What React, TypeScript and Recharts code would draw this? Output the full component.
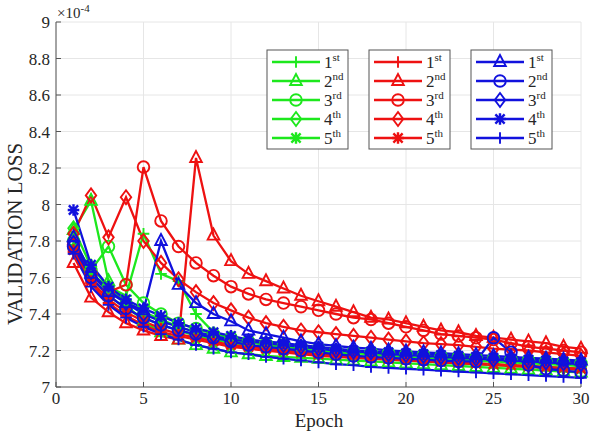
import React from "react";
import { LineChart, Line, XAxis, YAxis, CartesianGrid } from "recharts";

// validation loss, in units of 1e-4
const epochs = [1, 2, 3, 4, 5, 6, 7, 8, 9, 10, 11, 12, 13, 14, 15, 16, 17, 18, 19, 20, 21, 22, 23, 24, 25, 26, 27, 28, 29, 30];

const green1 = [7.78, 7.62, 7.55, 7.5, 7.84, 7.62, 7.58, 7.4, 7.3, 7.26, 7.23, 7.21, 7.2, 7.19, 7.18, 7.17, 7.16, 7.155, 7.15, 7.145, 7.14, 7.135, 7.13, 7.125, 7.12, 7.115, 7.11, 7.105, 7.1, 7.095];
const green2 = [7.86, 8.02, 7.58, 7.45, 7.36, 7.3, 7.26, 7.23, 7.21, 7.19, 7.18, 7.17, 7.165, 7.16, 7.155, 7.15, 7.145, 7.14, 7.135, 7.13, 7.125, 7.12, 7.115, 7.11, 7.105, 7.1, 7.095, 7.09, 7.085, 7.08];
const green3 = [7.8, 7.64, 7.77, 7.56, 7.46, 7.4, 7.35, 7.32, 7.29, 7.27, 7.25, 7.24, 7.23, 7.22, 7.21, 7.2, 7.195, 7.19, 7.185, 7.18, 7.175, 7.17, 7.165, 7.16, 7.155, 7.15, 7.145, 7.14, 7.135, 7.13];
const green4 = [7.87, 7.66, 7.55, 7.47, 7.41, 7.37, 7.33, 7.3, 7.28, 7.26, 7.245, 7.23, 7.22, 7.21, 7.2, 7.19, 7.185, 7.18, 7.17, 7.165, 7.16, 7.155, 7.15, 7.145, 7.14, 7.135, 7.13, 7.125, 7.12, 7.115];
const green5 = [7.76, 7.6, 7.5, 7.43, 7.38, 7.34, 7.31, 7.28, 7.26, 7.24, 7.23, 7.215, 7.205, 7.195, 7.185, 7.18, 7.17, 7.165, 7.16, 7.15, 7.145, 7.14, 7.135, 7.13, 7.125, 7.12, 7.115, 7.11, 7.105, 7.1];

const red1 = [7.74, 7.57, 7.46, 7.39, 7.34, 7.3, 7.28, 7.26, 7.24, 7.22, 7.21, 7.2, 7.19, 7.18, 7.17, 7.165, 7.16, 7.155, 7.15, 7.145, 7.14, 7.135, 7.13, 7.125, 7.12, 7.115, 7.11, 7.105, 7.1, 7.095];
const red2 = [7.68, 7.49, 7.41, 7.35, 7.31, 7.28, 7.26, 8.255, 7.83, 7.69, 7.62, 7.58, 7.54, 7.5, 7.47, 7.44, 7.41, 7.38, 7.37, 7.35, 7.33, 7.31, 7.3, 7.28, 7.27, 7.26, 7.25, 7.24, 7.22, 7.21];
const red3 = [7.78, 7.62, 7.52, 7.56, 8.205, 7.91, 7.77, 7.68, 7.61, 7.55, 7.51, 7.48, 7.46, 7.44, 7.42, 7.4, 7.38, 7.37, 7.35, 7.33, 7.31, 7.29, 7.28, 7.27, 7.26, 7.24, 7.22, 7.21, 7.2, 7.19];
const red4 = [7.84, 8.05, 7.82, 8.04, 7.8, 7.68, 7.59, 7.52, 7.46, 7.42, 7.38, 7.35, 7.33, 7.31, 7.3, 7.29, 7.28, 7.27, 7.26, 7.25, 7.24, 7.235, 7.23, 7.22, 7.21, 7.205, 7.2, 7.19, 7.18, 7.17];
const red5 = [7.75, 7.58, 7.48, 7.41, 7.36, 7.32, 7.29, 7.27, 7.25, 7.23, 7.22, 7.21, 7.2, 7.19, 7.18, 7.175, 7.17, 7.16, 7.155, 7.15, 7.145, 7.14, 7.135, 7.13, 7.125, 7.12, 7.115, 7.11, 7.105, 7.1];

const blue1 = [7.82, 7.62, 7.52, 7.46, 7.42, 7.8, 7.56, 7.46, 7.4, 7.36, 7.31, 7.29, 7.27, 7.25, 7.235, 7.225, 7.215, 7.21, 7.2, 7.195, 7.19, 7.185, 7.18, 7.175, 7.17, 7.165, 7.16, 7.155, 7.15, 7.145];
const blue2 = [7.77, 7.6, 7.5, 7.43, 7.38, 7.34, 7.31, 7.29, 7.27, 7.25, 7.23, 7.22, 7.21, 7.2, 7.19, 7.18, 7.17, 7.165, 7.16, 7.155, 7.15, 7.145, 7.14, 7.14, 7.27, 7.19, 7.12, 7.1, 7.09, 7.08];
const blue3 = [7.79, 7.63, 7.53, 7.46, 7.4, 7.36, 7.33, 7.3, 7.28, 7.26, 7.25, 7.24, 7.23, 7.22, 7.21, 7.2, 7.195, 7.19, 7.18, 7.175, 7.17, 7.165, 7.16, 7.155, 7.15, 7.145, 7.14, 7.135, 7.13, 7.125];
const blue4 = [7.97, 7.67, 7.55, 7.48, 7.43, 7.39, 7.35, 7.32, 7.3, 7.28, 7.26, 7.25, 7.24, 7.23, 7.22, 7.21, 7.2, 7.195, 7.19, 7.185, 7.18, 7.175, 7.17, 7.165, 7.16, 7.155, 7.15, 7.145, 7.14, 7.135];
const blue5 = [7.73, 7.55, 7.45, 7.38, 7.33, 7.29, 7.26, 7.23, 7.21, 7.19, 7.18, 7.165, 7.155, 7.145, 7.135, 7.125, 7.12, 7.11, 7.105, 7.1, 7.095, 7.09, 7.085, 7.08, 7.075, 7.07, 7.065, 7.06, 7.055, 7.05];

const xTicks = [0, 5, 10, 15, 20, 25, 30];
const yTicks = [7, 7.2, 7.4, 7.6, 7.8, 8, 8.2, 8.4, 8.6, 8.8, 9];
const rankLabels = [["1", "st"], ["2", "nd"], ["3", "rd"], ["4", "th"], ["5", "th"]];

const GREEN = "#1de81d";
const RED = "#ee1111";
const BLUE = "#1111dd";
const FONT = "Liberation Serif, serif";

type Shape = "plus" | "triangle" | "circle" | "diamond" | "star";

const series: { key: string; color: string; shape: Shape; values: number[] }[] = [
  { key: "g1", color: GREEN, shape: "plus", values: green1 },
  { key: "g2", color: GREEN, shape: "triangle", values: green2 },
  { key: "g3", color: GREEN, shape: "circle", values: green3 },
  { key: "g4", color: GREEN, shape: "diamond", values: green4 },
  { key: "g5", color: GREEN, shape: "star", values: green5 },
  { key: "r1", color: RED, shape: "plus", values: red1 },
  { key: "r2", color: RED, shape: "triangle", values: red2 },
  { key: "r3", color: RED, shape: "circle", values: red3 },
  { key: "r4", color: RED, shape: "diamond", values: red4 },
  { key: "r5", color: RED, shape: "star", values: red5 },
  { key: "b1", color: BLUE, shape: "triangle", values: blue1 },
  { key: "b2", color: BLUE, shape: "circle", values: blue2 },
  { key: "b3", color: BLUE, shape: "diamond", values: blue3 },
  { key: "b4", color: BLUE, shape: "star", values: blue4 },
  { key: "b5", color: BLUE, shape: "plus", values: blue5 },
];

const data = epochs.map((epoch, i) => {
  const row: Record<string, number> = { epoch };
  series.forEach((s) => (row[s.key] = s.values[i]));
  return row;
});

const Marker = ({ cx, cy, shape, color }: { cx: number; cy: number; shape: Shape; color: string }) => {
  const s = 5.8;
  const common = { stroke: color, strokeWidth: 1.9, fill: "none" };
  if (shape === "plus")
    return <path d={`M${cx - s},${cy}H${cx + s}M${cx},${cy - s}V${cy + s}`} {...common} />;
  if (shape === "triangle")
    return <polygon points={`${cx},${cy - s * 1.2} ${cx - s},${cy + s * 0.7} ${cx + s},${cy + s * 0.7}`} {...common} />;
  if (shape === "circle") return <circle cx={cx} cy={cy} r={s} {...common} />;
  if (shape === "diamond")
    return <polygon points={`${cx},${cy - s * 1.2} ${cx + s * 0.9},${cy} ${cx},${cy + s * 1.2} ${cx - s * 0.9},${cy}`} {...common} />;
  const d = s * 0.8;
  return (
    <path
      d={`M${cx - s},${cy}H${cx + s}M${cx},${cy - s}V${cy + s}M${cx - d},${cy - d}L${cx + d},${cy + d}M${cx - d},${cy + d}L${cx + d},${cy - d}`}
      {...common}
      strokeWidth={2.4}
    />
  );
};

// MATLAB-style tick label in a serif face
const TickText = ({ x, y, payload, textAnchor, dy }: any) => (
  <text x={x} y={y} dy={dy} textAnchor={textAnchor} fontFamily={FONT} fontSize={17} fill="#262626">
    {payload.value}
  </text>
);

const legendBoxes = [
  { left: 267, items: series.slice(0, 5) },
  { left: 369, items: series.slice(5, 10) },
  { left: 471, items: series.slice(10, 15) },
];

const App = () => {
  return (
    <div style={{ position: "absolute", left: 0, top: 0, width: 600, height: 435, background: "#fff", fontFamily: FONT }}>
      <LineChart width={600} height={435} data={data} margin={{ top: 22, right: 19, bottom: 0, left: 0 }}>
        <CartesianGrid stroke="#e6e6e6" />
        <XAxis
          dataKey="epoch"
          type="number"
          domain={[0, 30]}
          ticks={xTicks}
          height={48}
          stroke="#555"
          tickSize={-5}
          tickMargin={10}
          tick={(p: any) => <TickText {...p} textAnchor="middle" dy={12} />}
        />
        <XAxis xAxisId="top" orientation="top" type="number" domain={[0, 30]} ticks={xTicks} height={0} stroke="#555" tickSize={-5} tick={false} />
        <YAxis
          type="number"
          domain={[7, 9]}
          ticks={yTicks}
          width={56}
          stroke="#555"
          tickSize={-5}
          tickMargin={11}
          tick={(p: any) => <TickText {...p} textAnchor="end" dy={6} />}
        />
        <YAxis yAxisId="right" orientation="right" type="number" domain={[7, 9]} ticks={yTicks} width={0} stroke="#555" tickSize={-5} tick={false} />
        {series.map((s) => (
          <Line
            key={s.key}
            dataKey={s.key}
            stroke={s.color}
            strokeWidth={2.3}
            isAnimationActive={false}
            dot={(p: any) => <Marker key={`${s.key}-${p.index}`} cx={p.cx} cy={p.cy} shape={s.shape} color={s.color} />}
            activeDot={false}
          />
        ))}
      </LineChart>
      <svg width={600} height={435} style={{ position: "absolute", left: 0, top: 0, pointerEvents: "none" }} fontFamily={FONT}>
        <text x={57} y={18} fontSize={15} fill="#262626">
          ×10
          <tspan dy={-6} fontSize={11}>-4</tspan>
        </text>
        <text x={319} y={427} fontSize={19} textAnchor="middle" fill="#262626">
          Epoch
        </text>
        <text x={22} y={234} fontSize={21} textAnchor="middle" fill="#262626" transform="rotate(-90 22 234)">
          VALIDATION LOSS
        </text>
        {legendBoxes.map((box) => (
          <g key={box.left}>
            <rect x={box.left} y={50} width={81} height={99} fill="#fff" stroke="#555" strokeWidth={1} />
            {box.items.map((s, i) => {
              const y = 62 + i * 19;
              return (
                <g key={s.key}>
                  <line x1={box.left + 5} x2={box.left + 53} y1={y} y2={y} stroke={s.color} strokeWidth={2.3} />
                  <Marker cx={box.left + 29} cy={y} shape={s.shape} color={s.color} />
                  <text x={box.left + 57} y={y + 6} fontSize={17} fill="#262626">
                    {rankLabels[i][0]}
                    <tspan dy={-7} fontSize={11}>{rankLabels[i][1]}</tspan>
                  </text>
                </g>
              );
            })}
          </g>
        ))}
      </svg>
    </div>
  );
};

export default App;
